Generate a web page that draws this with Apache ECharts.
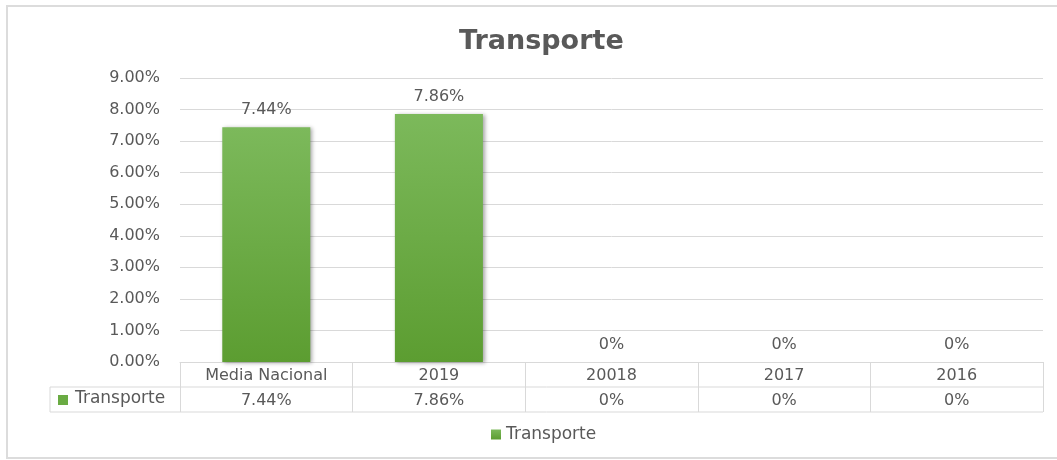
<!DOCTYPE html>
<html>
<head>
<meta charset="utf-8">
<script src="https://cdn.jsdelivr.net/npm/echarts@6/dist/echarts.min.js"></script>
<style>
  html, body { margin: 0; padding: 0; background: #fff; }
  #chart { width: 1057px; height: 460px; }
</style>
</head>
<body>
<div id="chart"></div>
<script>
// Chart data
const categories = ['Media Nacional', '2019', '20018', '2017', '2016'];
const transporteValues = [7.44, 7.86, 0, 0, 0];
const yTicks = [0, 1, 2, 3, 4, 5, 6, 7, 8, 9];

const TEXT_COLOR = '#595959';
const LINE_COLOR = '#d9d9d9';
const FONT = 'DejaVu Sans';

// Same text for labels and table cells
function formatPct(v) {
    return v === 0 ? '0%' : v.toFixed(2) + '%';
}

const chart = echarts.init(document.getElementById('chart'));

// Grid bounds, the data table is hung below the x axis
const gridLeft = 180, gridRight = 14, gridTop = 78, gridBottom = 98;
const baseY = 460 - gridBottom;
const rowH = 25;

const option = {
    animation: false,
    title: {
        text: 'Transporte',
        left: 454,
        top: 23,
        textStyle: { fontFamily: FONT, fontSize: 27, fontWeight: 'bold', color: TEXT_COLOR }
    },
    legend: {
        data: ['Transporte'],
        bottom: 12,
        left: 486,
        icon: 'rect',
        itemWidth: 10,
        itemHeight: 10,
        itemGap: 4,
        textStyle: { fontFamily: FONT, fontSize: 17, color: TEXT_COLOR }
    },
    grid: { left: gridLeft, right: gridRight, top: gridTop, bottom: gridBottom },
    xAxis: {
        type: 'category',
        data: categories,
        axisLine: { lineStyle: { color: LINE_COLOR } },
        axisTick: { show: true, length: rowH * 2, lineStyle: { color: LINE_COLOR } },
        axisLabel: {
            margin: 1,
            interval: 0,
            fontFamily: FONT,
            fontSize: 16,
            color: TEXT_COLOR,
            lineHeight: rowH,
            formatter: (value, idx) => value + '\n' + formatPct(transporteValues[idx])
        }
    },
    yAxis: {
        type: 'value',
        min: yTicks[0],
        max: yTicks[yTicks.length - 1],
        interval: 1,
        axisLine: { show: false },
        axisTick: { show: false },
        splitLine: { lineStyle: { color: LINE_COLOR } },
        axisLabel: {
            margin: 20,
            fontFamily: FONT,
            fontSize: 16,
            color: TEXT_COLOR,
            formatter: v => v.toFixed(2) + '%'
        }
    },
    series: [{
        name: 'Transporte',
        type: 'bar',
        data: transporteValues,
        barWidth: '51%',
        itemStyle: {
            color: new echarts.graphic.LinearGradient(0, 0, 0, 1, [
                { offset: 0, color: '#7cb95b' },
                { offset: 1, color: '#5c9d31' }
            ]),
            shadowColor: 'rgba(0,0,0,0.35)',
            shadowBlur: 4,
            shadowOffsetX: 2,
            shadowOffsetY: 1
        },
        label: {
            show: true,
            position: 'top',
            distance: 9,
            fontFamily: FONT,
            fontSize: 16,
            color: TEXT_COLOR,
            formatter: p => formatPct(p.value)
        }
    }],
    color: ['#6aab43'],
    graphic: [
        // outer chart frame
        {
            type: 'rect', silent: true,
            shape: { x: 7, y: 6, width: 1070, height: 452 },
            style: { fill: null, stroke: '#dcdcdc', lineWidth: 2 }
        },
        // data table rows
        {
            type: 'line', silent: true,
            shape: { x1: 50, y1: baseY + rowH, x2: 1057 - gridRight, y2: baseY + rowH },
            style: { stroke: LINE_COLOR, lineWidth: 1 }
        },
        {
            type: 'line', silent: true,
            shape: { x1: 50, y1: baseY + rowH * 2, x2: 1057 - gridRight, y2: baseY + rowH * 2 },
            style: { stroke: LINE_COLOR, lineWidth: 1 }
        },
        {
            type: 'line', silent: true,
            shape: { x1: 50, y1: baseY + rowH, x2: 50, y2: baseY + rowH * 2 },
            style: { stroke: LINE_COLOR, lineWidth: 1 }
        },
        // series key in the table
        {
            type: 'rect', silent: true,
            shape: { x: 58, y: baseY + rowH + 8, width: 10, height: 10 },
            style: { fill: '#6aab43' }
        },
        {
            type: 'text', silent: true,
            left: 75, top: baseY + rowH + 3,
            style: { text: 'Transporte', fill: TEXT_COLOR, font: '17px "DejaVu Sans"' }
        }
    ]
};

chart.setOption(option);
</script>
</body>
</html>
